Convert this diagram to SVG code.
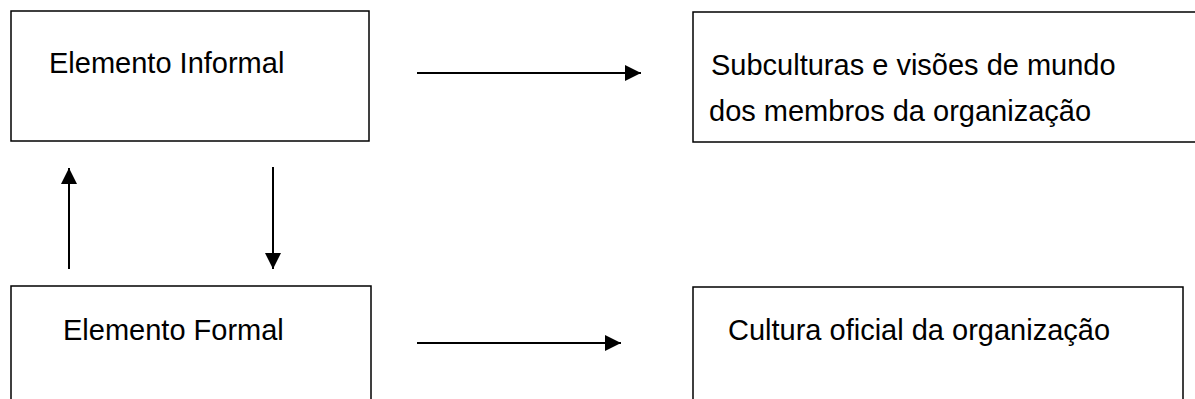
<svg xmlns="http://www.w3.org/2000/svg" width="1195" height="399" viewBox="0 0 1195 399">
<style>
.box{fill:#fff;stroke:#000;stroke-width:1.5}
.lbl{font-family:"Liberation Sans",Arial,sans-serif;font-size:29px;fill:#000}
.conn{stroke:#000;stroke-width:2;fill:none}
</style>
<defs>
<marker id="ah" viewBox="0 0 16 16" refX="16" refY="8" markerWidth="16" markerHeight="16" markerUnits="userSpaceOnUse" orient="auto">
<path d="M0,0 L16,8 L0,16 Z" fill="#000"/>
</marker>
</defs>
<rect width="1195" height="399" fill="#fff"/>
<g id="informal">
<rect class="box" x="11" y="11" width="358" height="130"/>
<text class="lbl" x="49" y="73">Elemento Informal</text>
</g>
<g id="subculturas">
<rect class="box" x="693" y="12" width="520" height="130"/>
<text class="lbl" x="711" y="75">Subculturas e visões de mundo</text>
<text class="lbl" x="709" y="121">dos membros da organização</text>
</g>
<g id="formal">
<rect class="box" x="11" y="286" width="360" height="130"/>
<text class="lbl" x="63" y="340">Elemento Formal</text>
</g>
<g id="cultura">
<rect class="box" x="693" y="287" width="490" height="130"/>
<text class="lbl" x="728" y="340">Cultura oficial da organização</text>
</g>
<g id="connectors">
<line class="conn" x1="417" y1="73" x2="641" y2="73" marker-end="url(#ah)"/>
<line class="conn" x1="417" y1="343" x2="621" y2="343" marker-end="url(#ah)"/>
<line class="conn" x1="69" y1="269" x2="69" y2="168" marker-end="url(#ah)"/>
<line class="conn" x1="273" y1="167" x2="273" y2="269" marker-end="url(#ah)"/>
</g>
</svg>
